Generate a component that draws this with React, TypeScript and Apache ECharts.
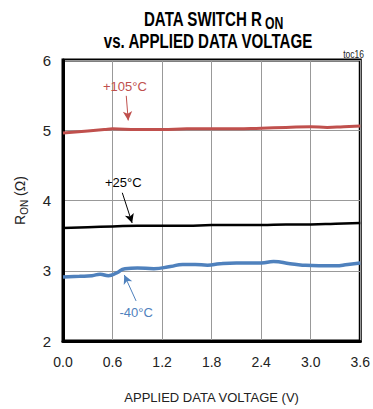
import React, { useEffect, useRef } from "react";
import * as echarts from "echarts";

const xTicks = ["0.0", "0.6", "1.2", "1.8", "2.4", "3.0", "3.6"];
const yTicks = ["2", "3", "4", "5", "6"];

const red105: [number, number][] = [
  [0, 4.96], [0.3, 4.99], [0.5, 5.01], [0.6, 5.02], [0.9, 5.01], [1.2, 5.01],
  [1.5, 5.02], [1.8, 5.02], [2.1, 5.02], [2.4, 5.03], [2.7, 5.04], [3.0, 5.05],
  [3.2, 5.04], [3.4, 5.05], [3.6, 5.06],
];
const black25: [number, number][] = [
  [0, 3.61], [0.3, 3.62], [0.6, 3.63], [0.9, 3.64], [1.2, 3.64], [1.5, 3.64],
  [1.8, 3.65], [2.1, 3.65], [2.4, 3.65], [2.7, 3.66], [3.0, 3.66], [3.3, 3.67],
  [3.6, 3.68],
];
const blue40: [number, number][] = [
  [0, 2.91], [0.2, 2.92], [0.35, 2.93], [0.45, 2.95], [0.55, 2.93], [0.65, 2.97],
  [0.75, 3.03], [0.9, 3.04], [1.1, 3.03], [1.3, 3.06], [1.45, 3.09], [1.6, 3.09],
  [1.75, 3.08], [1.9, 3.1], [2.1, 3.11], [2.4, 3.11], [2.55, 3.13], [2.75, 3.1],
  [2.9, 3.08], [3.1, 3.07], [3.3, 3.07], [3.45, 3.09], [3.6, 3.11],
];

// annotation: label position, arrow start, arrow end (data coords)
const annotations = [
  { text: "+105°C", color: "#c0504d", label: [0.75, 5.62], from: [0.766, 5.49], to: [0.79, 5.14] },
  { text: "+25°C", color: "#000000", label: [0.73, 4.26], from: [0.718, 4.11], to: [0.837, 3.68] },
  { text: "-40°C", color: "#4f81bd", label: [0.885, 2.4], from: [0.885, 2.57], to: [0.742, 2.94] },
];

const FONT = "'Liberation Sans', Arial, sans-serif";

export default function App() {
  const ref = useRef<HTMLDivElement>(null);
  useEffect(() => {
    if (!ref.current) return;
    const chart = echarts.init(ref.current, null, { renderer: "svg" });
    const colors = ["#c0504d", "#000000", "#4f81bd"];
    const datas = [red105, black25, blue40];
    const widths = [3, 2.5, 3.5];
    const series: any[] = datas.map((d, i) => ({
      type: "line",
      data: d,
      smooth: true,
      showSymbol: false,
      lineStyle: { color: colors[i], width: widths[i] },
      z: 3,
    }));
    series.push({
      type: "scatter",
      data: [],
      markLine: {
        silent: true,
        symbol: ["none", "arrow"],
        symbolSize: [7, 9],
        label: { show: false },
        data: annotations.map((a) => [
          { coord: a.from, lineStyle: { color: a.color, width: 1, type: "solid" } },
          { coord: a.to },
        ]),
      },
      markPoint: {
        symbol: "circle",
        symbolSize: 0,
        data: annotations.map((a) => ({
          coord: a.label,
          label: {
            show: true,
            position: "inside",
            formatter: a.text,
            color: a.color,
            fontSize: 13,
            fontFamily: FONT,
          },
        })),
      },
    });
    const titleStyle = { fontSize: 21, fontWeight: "bold", fontFamily: FONT, fill: "#000" };
    chart.setOption({
      animation: false,
      textStyle: { fontFamily: FONT },
      grid: {
        left: 63, right: 9, top: 60, bottom: 61,
        show: true, borderColor: "#000", borderWidth: 3,
      },
      xAxis: {
        type: "value",
        min: 0, max: 3.6, interval: 0.6,
        axisLine: { show: true, lineStyle: { color: "#000", width: 3 } },
        axisTick: { show: false },
        axisLabel: {
          color: "#222", fontSize: 14, margin: 14,
          formatter: (v: number) => xTicks[Math.round(v / 0.6)] ?? "",
        },
        splitLine: { show: true, lineStyle: { color: "#999", width: 1 } },
        name: "APPLIED DATA VOLTAGE (V)",
        nameLocation: "middle",
        nameGap: 50,
        nameTextStyle: { color: "#222", fontSize: 13, fontFamily: FONT },
      },
      yAxis: {
        type: "value",
        min: 2, max: 6, interval: 1,
        axisLine: { show: true, lineStyle: { color: "#000", width: 3 } },
        axisTick: { show: false },
        axisLabel: {
          color: "#222", fontSize: 15, margin: 12,
          formatter: (v: number) => yTicks[Math.round(v - 2)] ?? "",
        },
        splitLine: { show: true, lineStyle: { color: "#999", width: 1 } },
        name: "{a|R}{sub|ON}{a| (Ω)}",
        nameLocation: "middle",
        nameGap: 34,
        nameTextStyle: {
          color: "#222",
          rich: {
            a: { fontSize: 14, fontFamily: FONT, color: "#222", verticalAlign: "top", lineHeight: 16 },
            sub: { fontSize: 10, fontFamily: FONT, color: "#222", verticalAlign: "top", lineHeight: 16, padding: [6, 0, 0, 0] },
          },
        },
      },
      graphic: [
        {
          type: "text", x: 262, y: 8, scaleX: 0.72,
          style: { ...titleStyle, text: "DATA SWITCH R", textAlign: "right" },
        },
        {
          type: "text", x: 265, y: 15, scaleX: 0.72,
          style: { ...titleStyle, fontSize: 17, text: "ON", textAlign: "left" },
        },
        {
          type: "text", x: 208, y: 30, scaleX: 0.72,
          style: { ...titleStyle, text: "vs. APPLIED DATA VOLTAGE", textAlign: "center" },
        },
        {
          type: "text", x: 364, y: 50, scaleX: 0.85,
          style: { text: "toc16", fontSize: 10, fontFamily: FONT, fill: "#222", textAlign: "right" },
        },
      ],
      series,
    });
    return () => chart.dispose();
  }, []);
  return <div ref={ref} style={{ width: 373, height: 409, position: "absolute", left: 0, top: 0 }} />;
}
